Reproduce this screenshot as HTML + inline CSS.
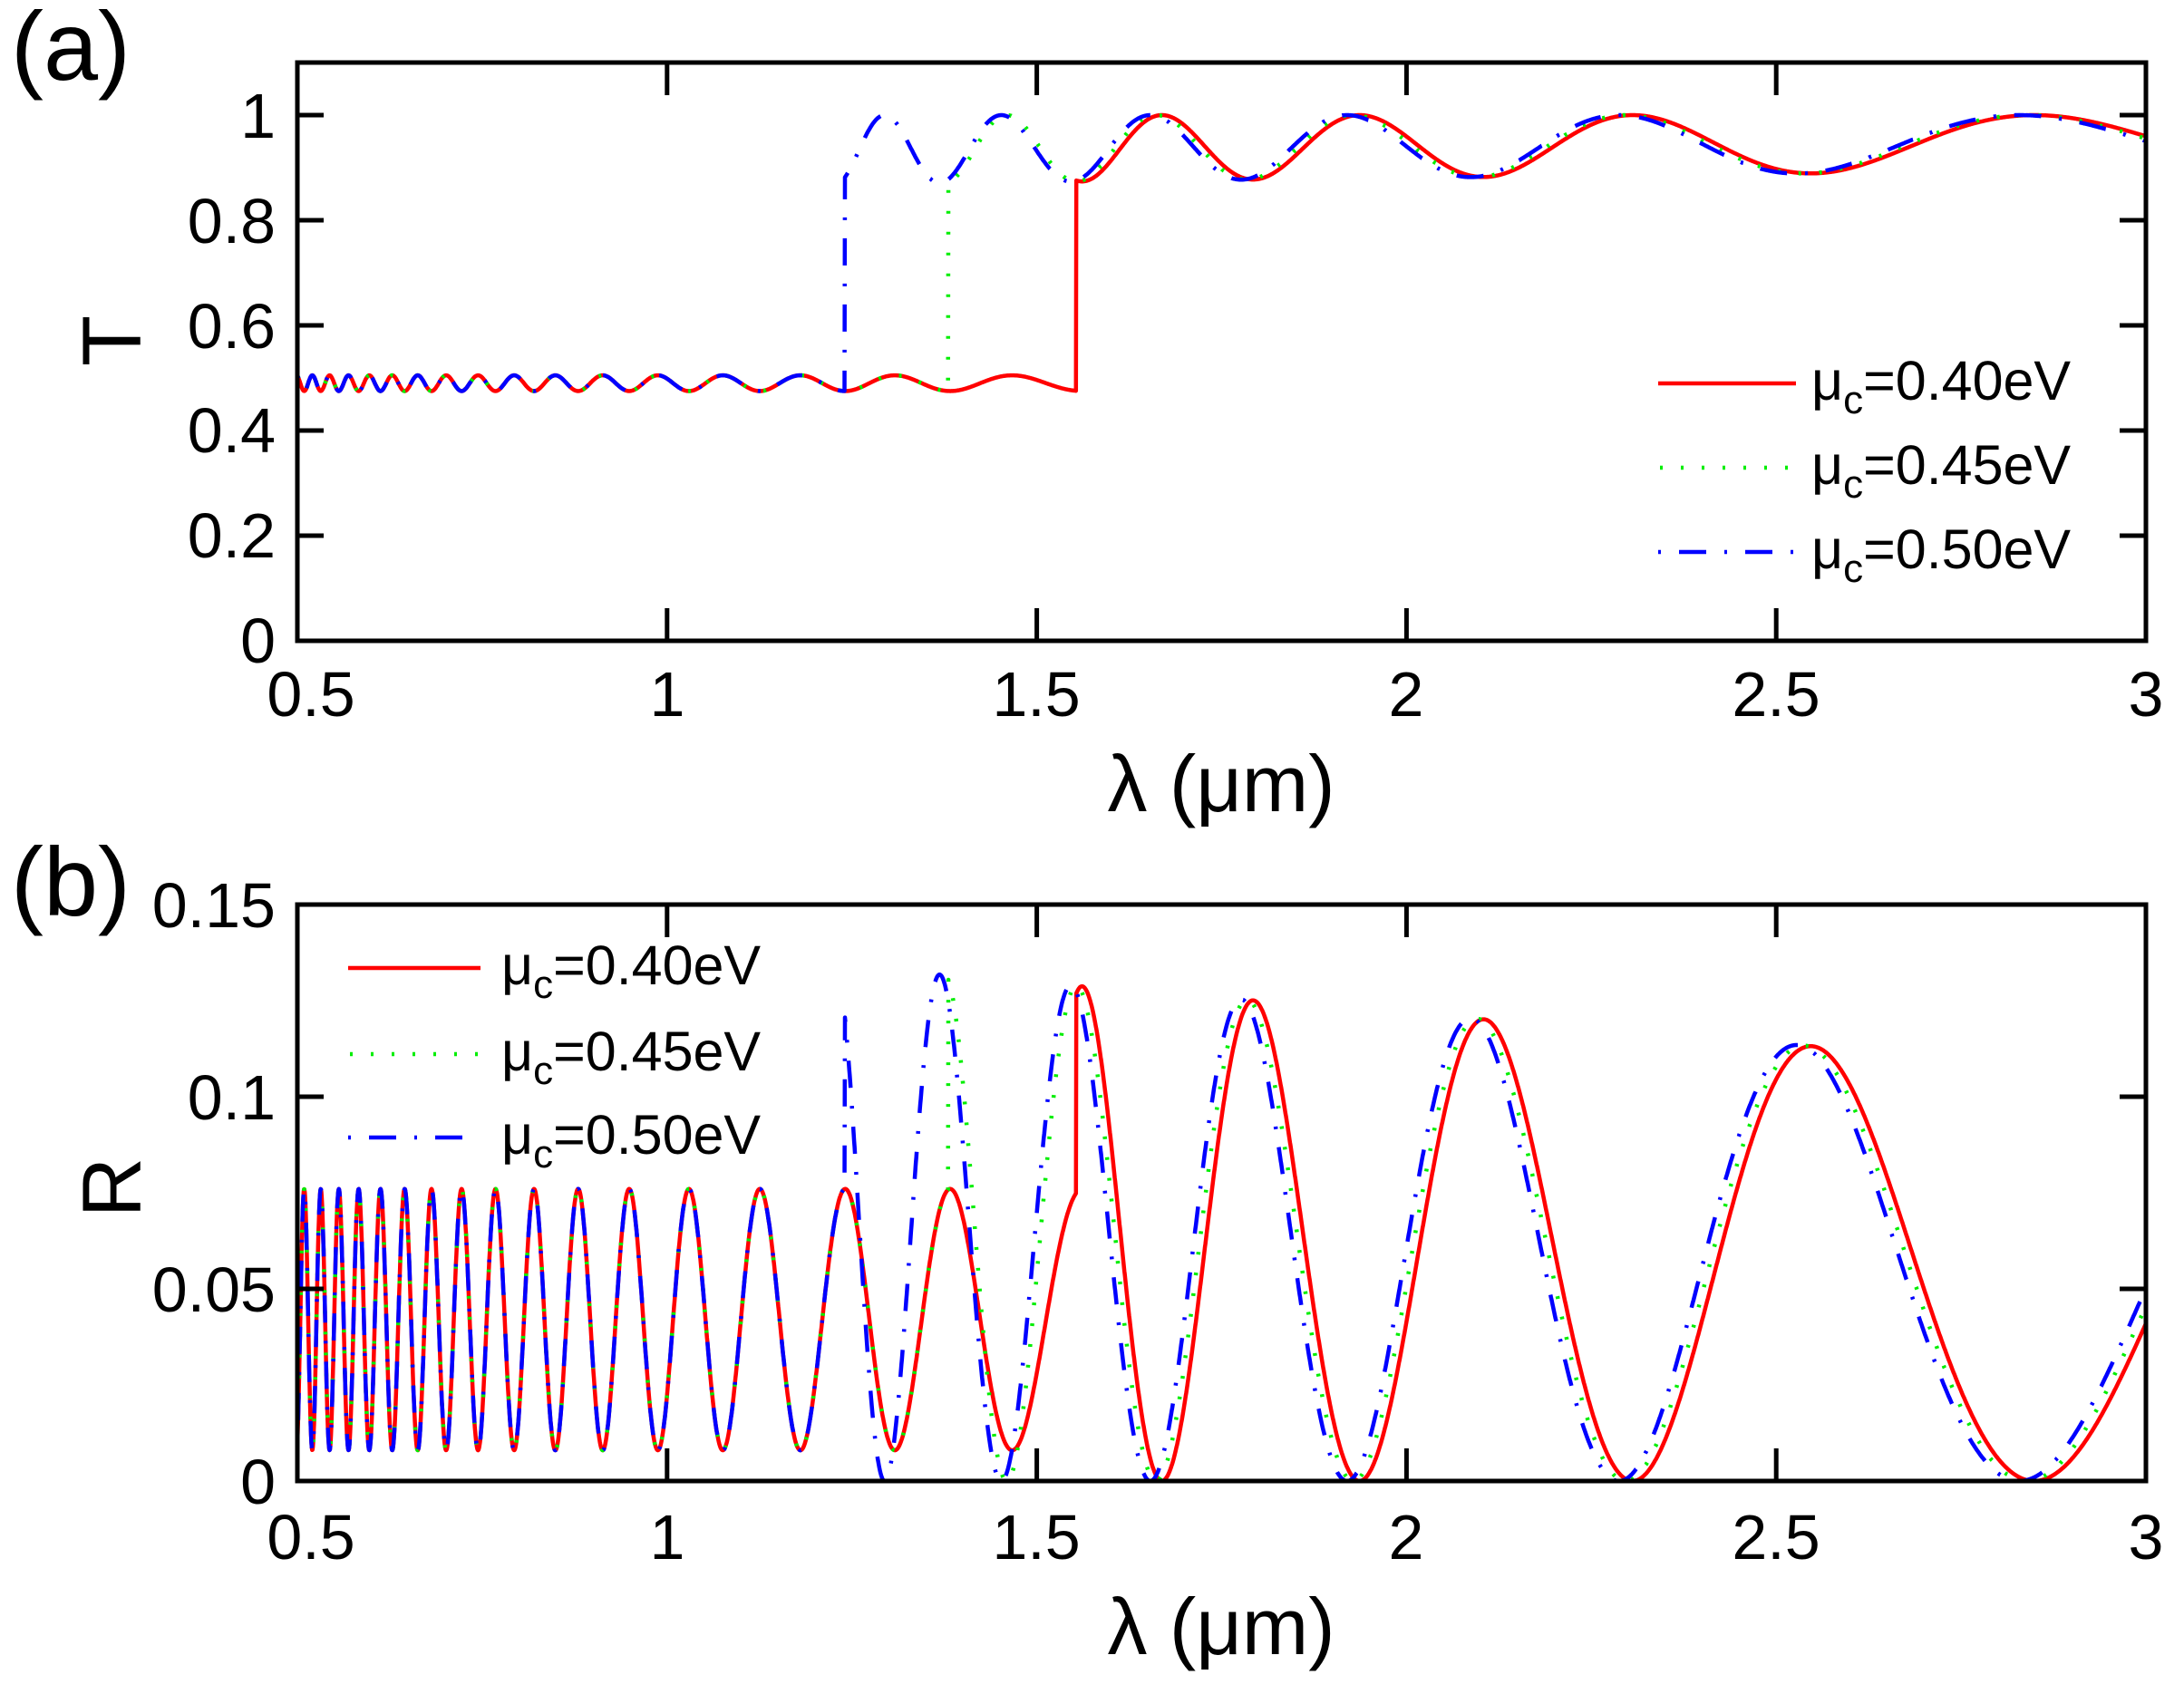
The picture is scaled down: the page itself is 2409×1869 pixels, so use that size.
<!DOCTYPE html>
<html><head><meta charset="utf-8"><style>
html,body{margin:0;padding:0;background:#fff;}
svg{display:block;}
text{font-family:"Liberation Sans",sans-serif;fill:#000;}
</style></head><body>
<svg id="s" width="2409" height="1869" viewBox="0 0 2409 1869" xmlns="http://www.w3.org/2000/svg">
<g id="curves" fill="none" stroke-linejoin="round"></g>
<g id="axes" fill="none" stroke="#000" stroke-width="5"></g>
<g font-size="70" text-anchor="end">
<text x="304" y="152">1</text><text x="304" y="268">0.8</text><text x="304" y="384">0.6</text>
<text x="304" y="499">0.4</text><text x="304" y="615">0.2</text><text x="304" y="731">0</text>
<text x="304" y="1023">0.15</text><text x="304" y="1235">0.1</text><text x="304" y="1447">0.05</text><text x="304" y="1659">0</text>
</g>
<g font-size="70" text-anchor="middle">
<text x="343" y="790">0.5</text><text x="736" y="790">1</text><text x="1143" y="790">1.5</text><text x="1551" y="790">2</text><text x="1959" y="790">2.5</text><text x="2367" y="790">3</text>
<text x="343" y="1720">0.5</text><text x="736" y="1720">1</text><text x="1143" y="1720">1.5</text><text x="1551" y="1720">2</text><text x="1959" y="1720">2.5</text><text x="2367" y="1720">3</text>
</g>
<g font-size="88" text-anchor="middle">
<text x="1347" y="895">λ (μm)</text><text x="1347" y="1825">λ (μm)</text>
<text font-size="92" transform="translate(155,376) rotate(-90)">T</text>
<text font-size="92" transform="translate(155,1310) rotate(-90)">R</text>
</g>
<text x="12" y="88" font-size="108">(a)</text>
<text x="12" y="1010" font-size="108">(b)</text>
<g font-size="61">
<text x="1998" y="441">μ<tspan font-size="44" dy="15">c</tspan><tspan dy="-15">=0.40eV</tspan></text>
<text x="1998" y="534">μ<tspan font-size="44" dy="15">c</tspan><tspan dy="-15">=0.45eV</tspan></text>
<text x="1998" y="627">μ<tspan font-size="44" dy="15">c</tspan><tspan dy="-15">=0.50eV</tspan></text>
<text x="553" y="1086">μ<tspan font-size="44" dy="15">c</tspan><tspan dy="-15">=0.40eV</tspan></text>
<text x="553" y="1181">μ<tspan font-size="44" dy="15">c</tspan><tspan dy="-15">=0.45eV</tspan></text>
<text x="553" y="1273">μ<tspan font-size="44" dy="15">c</tspan><tspan dy="-15">=0.50eV</tspan></text>
</g>
<g stroke-width="4.5">
<line x1="1829" y1="423" x2="1981" y2="423" stroke="#ff0000"/>
<line x1="1831" y1="516" x2="1981" y2="516" stroke="#00ee00" stroke-dasharray="3 20"/>
<line x1="1829" y1="609" x2="1981" y2="609" stroke="#0000ff" stroke-dasharray="3 20 30 20"/>
<line x1="384" y1="1068" x2="530" y2="1068" stroke="#ff0000"/>
<line x1="386" y1="1163" x2="530" y2="1163" stroke="#00ee00" stroke-dasharray="3 20"/>
<line x1="384" y1="1255" x2="530" y2="1255" stroke="#0000ff" stroke-dasharray="3 20 30 20"/>
</g>
</svg>
<script>
(function(){
var NS="http://www.w3.org/2000/svg";
var X0=328,XS=815.6;
function px(l){return X0+(l-0.5)*XS;}
function ty(t){return 707-t*580;}
function ry(r){return 1634-r*4240;}
var D=0.0827,Z=0.351;
function R(l,lc,k){
  var x=1/l;
  if(l<lc){var s=Math.sin(Math.PI*(x-Z)/D);return 0.008+0.068*s*s;}
  var d=k*Math.pow(x,1.5);
  var s=Math.sin(Math.PI*(x-Z-d)/D);
  var A=0.1297-0.0158*(l-1.5);
  return A*s*s;
}
function T(l,lc,k){
  var r=R(l,lc,k);
  if(l<lc) return 0.505-0.44*(r-0.008);
  return 1-r*0.98;
}
var ser=[
 {lc:1.553,k:0,c:"#ff0000",da:""},
 {lc:1.38,k:0.006,c:"#00ee00",da:"3 20"},
 {lc:1.24,k:0.012,c:"#0000ff",da:"3 20 30 20"}
];
var g=document.getElementById("curves");
ser.forEach(function(s){
  var dt="",dr="";
  for(var l=0.5;l<=3.0001;l+=0.0005){
    var X=px(l).toFixed(1);
    dt+=(dt?"L":"M")+X+" "+ty(T(l,s.lc,s.k)).toFixed(1);
    dr+=(dr?"L":"M")+X+" "+ry(R(l,s.lc,s.k)).toFixed(1);
  }
  [dt,dr].forEach(function(d){
    var p=document.createElementNS(NS,"path");
    p.setAttribute("d",d);p.setAttribute("stroke",s.c);p.setAttribute("stroke-width","4.5");
    if(s.da)p.setAttribute("stroke-dasharray",s.da);
    g.appendChild(p);
  });
});
var a=document.getElementById("axes"),h="";
function box(t,b,yt){
  h+='<rect x="328" y="'+t+'" width="2039" height="'+(b-t)+'"/>';
  for(var i=0;i<6;i++){var x=328+i*407.8;h+='<line x1="'+x+'" y1="'+b+'" x2="'+x+'" y2="'+(b-36)+'"/><line x1="'+x+'" y1="'+t+'" x2="'+x+'" y2="'+(t+36)+'"/>';}
  yt.forEach(function(y){h+='<line x1="328" y1="'+y+'" x2="357" y2="'+y+'"/><line x1="2367" y1="'+y+'" x2="2338" y2="'+y+'"/>';});
}
box(69,707,[127,243,359,475,591]);
box(998,1634,[1210,1422]);
a.innerHTML=h;
})();
</script>
</body></html>
